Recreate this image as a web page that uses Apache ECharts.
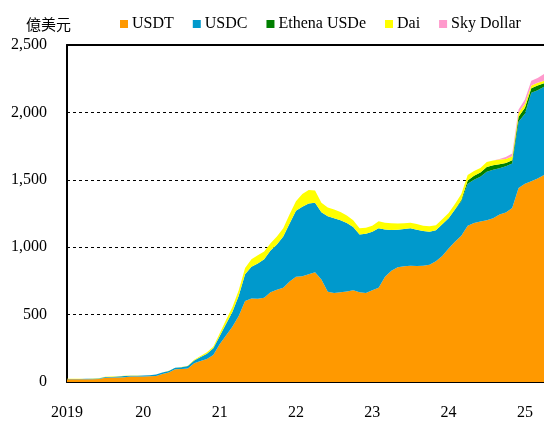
<!DOCTYPE html>
<html>
<head>
<meta charset="utf-8">
<script src="https://cdn.jsdelivr.net/npm/echarts@6/dist/echarts.min.js"></script>
<style>
  html, body { margin: 0; padding: 0; background: #fff; }
  #chart { width: 544px; height: 424px; }
</style>
</head>
<body>
<div id="chart"></div>
<script>
// 月份（2019-01 ~ 2025-04）
var months = [
  '2019-01','2019-02','2019-03','2019-04','2019-05','2019-06','2019-07','2019-08','2019-09','2019-10','2019-11','2019-12',
  '2020-01','2020-02','2020-03','2020-04','2020-05','2020-06','2020-07','2020-08','2020-09','2020-10','2020-11','2020-12',
  '2021-01','2021-02','2021-03','2021-04','2021-05','2021-06','2021-07','2021-08','2021-09','2021-10','2021-11','2021-12',
  '2022-01','2022-02','2022-03','2022-04','2022-05','2022-06','2022-07','2022-08','2022-09','2022-10','2022-11','2022-12',
  '2023-01','2023-02','2023-03','2023-04','2023-05','2023-06','2023-07','2023-08','2023-09','2023-10','2023-11','2023-12',
  '2024-01','2024-02','2024-03','2024-04','2024-05','2024-06','2024-07','2024-08','2024-09','2024-10','2024-11','2024-12',
  '2025-01','2025-02','2025-03','2025-04'
];

// 各稳定币市值（亿美元）
var usdt = [
  20,20,20,20,21,22,32,33,34,36,40,40,
  41,42,45,60,70,95,96,100,140,155,170,200,
  280,345,410,490,600,620,618,625,665,685,700,745,
  780,785,800,815,760,670,660,665,672,680,665,660,
  680,700,780,825,852,858,862,860,862,870,895,935,
  990,1040,1085,1160,1180,1190,1200,1215,1242,1258,1290,1440,
  1470,1490,1510,1535
];
var usdc = [
  3,3,3,4,4,4,5,5,6,8,6,7,
  7,8,10,10,12,10,14,18,20,30,40,50,
  60,85,110,150,200,235,262,285,310,335,380,430,
  490,515,525,515,500,560,554,535,508,470,430,440,
  435,440,352,303,278,277,278,270,258,245,230,235,
  225,240,255,310,320,333,360,360,343,342,330,490,
  520,655,655,655
];
var usde = [
  0,0,0,0,0,0,0,0,0,0,0,0,
  0,0,0,0,0,0,0,0,0,0,0,0,
  0,0,0,0,0,0,0,0,0,0,0,0,
  0,0,0,0,0,0,0,0,0,0,0,0,
  0,0,0,0,0,0,0,0,0,0,0,0,
  0,0,10,25,30,32,35,33,30,25,25,37,
  45,35,35,26
];
var dai = [
  1,1,1,1,1,1,2,2,2,2,2,2,
  1,1,1,1,1,1,2,3,5,8,10,12,
  20,30,35,40,45,55,60,58,55,60,60,70,
  70,95,100,90,70,65,65,62,55,50,45,45,
  45,52,50,50,45,42,42,42,40,40,38,38,
  38,40,45,40,35,32,37,35,35,30,30,30,
  30,20,20,19
];
var sky = [
  0,0,0,0,0,0,0,0,0,0,0,0,
  0,0,0,0,0,0,0,0,0,0,0,0,
  0,0,0,0,0,0,0,0,0,0,0,0,
  0,0,0,0,0,0,0,0,0,0,0,0,
  0,0,0,0,0,0,0,0,0,0,0,0,
  0,0,0,0,0,0,0,0,5,15,20,24,
  30,35,35,50
];

var seriesNames = ['USDT', 'USDC', 'Ethena USDe', 'Dai', 'Sky Dollar'];
var seriesColors = ['#FF9900', '#0099CC', '#007F00', '#FFFF00', '#FF99CC'];
var seriesData = [usdt, usdc, usde, dai, sky];

var serif = '"Liberation Serif", "Times New Roman", serif';

var chart = echarts.init(document.getElementById('chart'));

chart.setOption({
  animation: false,
  title: {
    text: '億美元',
    left: 21,
    top: 12,
    textStyle: {
      fontFamily: '"Noto Sans CJK TC", sans-serif',
      fontSize: 15,
      fontWeight: 'normal',
      color: '#000'
    }
  },
  legend: {
    left: 115,
    top: 11,
    icon: 'rect',
    itemWidth: 8,
    itemHeight: 8,
    itemGap: 19,
    textStyle: { fontFamily: serif, fontSize: 16, color: '#000', padding: [0, 0, 0, -1] },
    data: seriesNames
  },
  grid: {
    left: 67,
    right: 0,
    top: 45,
    bottom: 42
  },
  xAxis: [
    {
      type: 'category',
      data: months,
      boundaryGap: false,
      axisLine: { lineStyle: { color: '#000', width: 2 } },
      axisTick: { show: false },
      axisLabel: {
        interval: 11,
        margin: 23,
        fontFamily: serif,
        fontSize: 16,
        color: '#000',
        formatter: function (v) {
          var y = v.slice(0, 4);
          return y === '2019' ? '2019' : y.slice(2);
        }
      },
      splitLine: { show: false }
    },
    {
      type: 'category',
      data: months,
      boundaryGap: false,
      position: 'top',
      axisLine: { lineStyle: { color: '#000', width: 2 } },
      axisTick: { show: false },
      axisLabel: { show: false }
    }
  ],
  yAxis: {
    type: 'value',
    min: 0,
    max: 2500,
    interval: 500,
    axisLine: { show: true, lineStyle: { color: '#000', width: 2 } },
    axisTick: { show: false },
    axisLabel: {
      margin: 20,
      fontFamily: serif,
      fontSize: 16,
      color: '#000',
      formatter: function (v) { return v.toLocaleString('en-US'); }
    },
    splitLine: { lineStyle: { color: '#000', type: [3, 3], width: 1 } }
  },
  series: seriesNames.map(function (name, i) {
    return {
      name: name,
      type: 'line',
      stack: 'total',
      data: seriesData[i],
      showSymbol: false,
      symbol: 'none',
      itemStyle: { color: seriesColors[i] },
      lineStyle: { width: 0 },
      areaStyle: { color: seriesColors[i], opacity: 1 }
    };
  })
});
</script>
</body>
</html>
